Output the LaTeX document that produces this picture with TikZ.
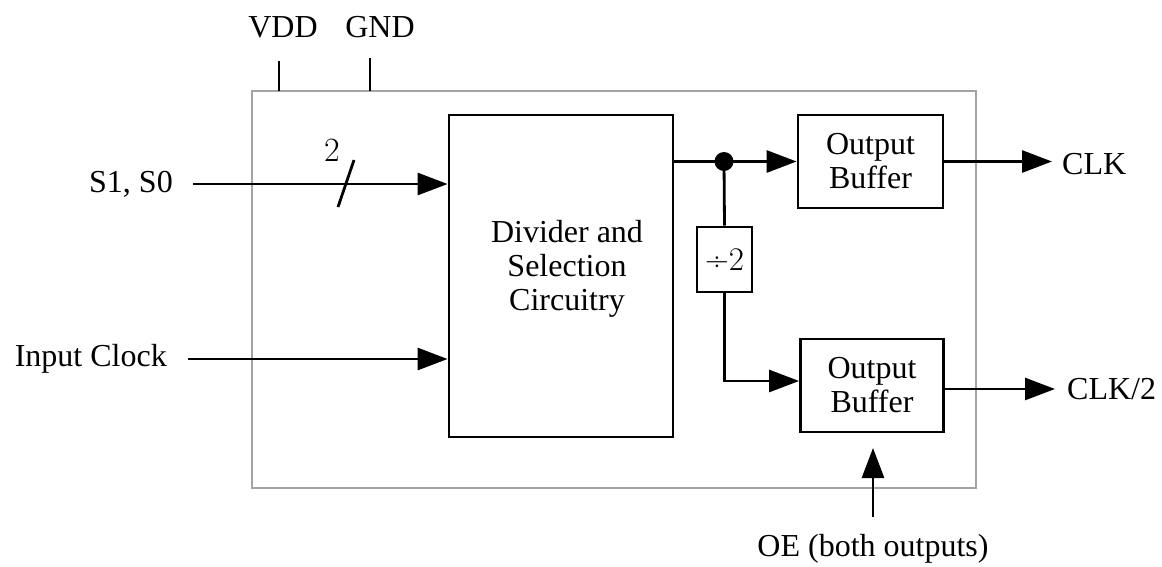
\documentclass[tikz,border=0pt]{standalone}
\usepackage{fontspec}
\setmainfont{Liberation Serif}
\newfontfamily\cmfont{Latin Modern Roman}
\usetikzlibrary{arrows.meta,calc}
\begin{document}
\begin{tikzpicture}[x=1pt,y=-1pt,
  wire/.style={line width=2.8pt},
  arr/.style={wire,-{Triangle[length=30pt,width=22pt]}},
  blk/.style={draw,line width=2.8pt,rectangle,align=center,inner sep=0pt},
  lbl/.style={font=\fontsize{32}{34}\selectfont,inner sep=0pt},
  every node/.style={font=\fontsize{32}{34}\selectfont}]
\useasboundingbox (0,0) rectangle (1162,566);
% outer chip outline
\node[draw=black!36,line width=2.2pt,minimum width=724pt,minimum height=397pt,inner sep=0pt] (chip) at (614,289.5) {};
% blocks
\node[blk,minimum width=224pt,minimum height=322pt,
  label={[align=center,inner sep=0pt,xshift=6pt,yshift=7pt]center:Divider and\\Selection\\Circuitry}] (div) at (561,276) {};
\node[blk,minimum width=145pt,minimum height=93pt] (buf1) at (870.5,161.5) {Output\\Buffer};
\node[blk,minimum width=143pt,minimum height=93pt] (buf2) at (872,385.5) {Output\\Buffer};
\node[blk,minimum width=55pt,minimum height=65pt,font=\cmfont\fontsize{33}{35}\selectfont] (half) at (724.5,259.5) {÷2};
\node[circle,fill=black,minimum size=19pt,inner sep=0pt] (dot) at (724,161.5) {};
% labels
\node[lbl,anchor=east,inner xsep=20pt] (sel) at (193,184) {S1, S0};
\node[lbl,anchor=east,inner xsep=21pt] (clkin) at (188,359) {Input Clock};
\node[lbl,anchor=west,inner xsep=10pt] (clk) at (1052,164) {CLK};
\node[lbl,anchor=west,inner xsep=12pt] (clk2) at (1055,389) {CLK/2};
\node[lbl] (oe) at (873,549) {OE (both outputs)};
\node[lbl] (vdd) at (283,27) {VDD};
\node[lbl] (gnd) at (380,27) {GND};
\node[inner sep=0pt,font=\cmfont\fontsize{34}{36}\selectfont] (bus) at (332,150) {2};
% pins
\coordinate (vddpin) at (279,91);
\coordinate (gndpin) at (370,91);
\coordinate (oebase) at (873,517);
\coordinate (oetip) at (873,448);
\draw[wire] (vddpin) -- ++(0,-30);
\draw[wire] (gndpin) -- ++(0,-33);
% connectors
\draw[arr] (sel.east) -- (div.west |- sel.east);
\draw[wire] (338,207) -- (354,160);
\draw[arr] (clkin.east) -- (div.west |- clkin.east);
\draw[arr] (div.east |- buf1.west) -- (buf1.west);
\draw[wire] (dot) -- (half.north);
\draw[arr] (half.south) |- ([yshift=4.5pt]buf2.west);
\draw[arr] (buf1.east) -- (clk.west |- buf1.east);
\draw[arr] (buf2.east |- clk2.west) -- (clk2.west);
\draw[arr] (oebase) -- (oetip);
\end{tikzpicture}
\end{document}
